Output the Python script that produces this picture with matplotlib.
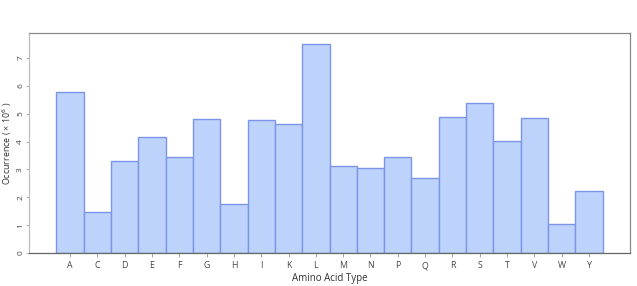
import numpy as np
import matplotlib.pyplot as plt

# amino acid counts (x10^6)
amino_acids = ['A', 'C', 'D', 'E', 'F', 'G', 'H', 'I', 'K', 'L',
               'M', 'N', 'P', 'Q', 'R', 'S', 'T', 'V', 'W', 'Y']
occurrence = [5.78, 1.47, 3.30, 4.16, 3.45, 4.81, 1.76, 4.76, 4.62, 7.49,
              3.12, 3.05, 3.45, 2.68, 4.88, 5.37, 4.03, 4.85, 1.03, 2.21]

plt.rcParams['font.family'] = ['Open Sans', 'DejaVu Sans']

fig = plt.figure(figsize=(6.37, 2.86), dpi=100)
ax = fig.add_axes([29 / 637, 1 - 253 / 286, 601 / 637, 220 / 286])

x = np.arange(len(amino_acids))
ax.bar(x, occurrence, width=1.0, color='#bdd3fb', edgecolor='#7d95e9', linewidth=1.0)

ax.set_xlim(-1.5, 20.5)
ax.set_ylim(0, 7.9)
ax.set_xticks(x)
ax.set_xticklabels(amino_acids)
ax.set_yticks(range(8))
for lbl in ax.get_yticklabels():
    lbl.set_rotation(90)
    lbl.set_va('center')

ax.tick_params(axis='x', labelsize=6.3, length=3, pad=3)
ax.tick_params(axis='y', labelsize=6, length=2, pad=1.5)
ax.tick_params(axis='both', colors='#444444', width=0.6)
ax.tick_params(axis='both', color='#999999')

ax.set_xlabel('Amino Acid Type', fontsize=7, color='#333333', labelpad=2)
ax.set_ylabel('Occurrence ( × 10$^6$ )', fontsize=6.4, color='#333333')
ax.yaxis.set_label_coords(-15 / 601, 0.5)

for side in ['top', 'right']:
    ax.spines[side].set_color('#888888')
ax.spines['left'].set_color('#bbbbbb')
ax.spines['bottom'].set_color('#666666')
for s in ax.spines.values():
    s.set_linewidth(0.9)

fig.savefig('out.png', dpi=100)
